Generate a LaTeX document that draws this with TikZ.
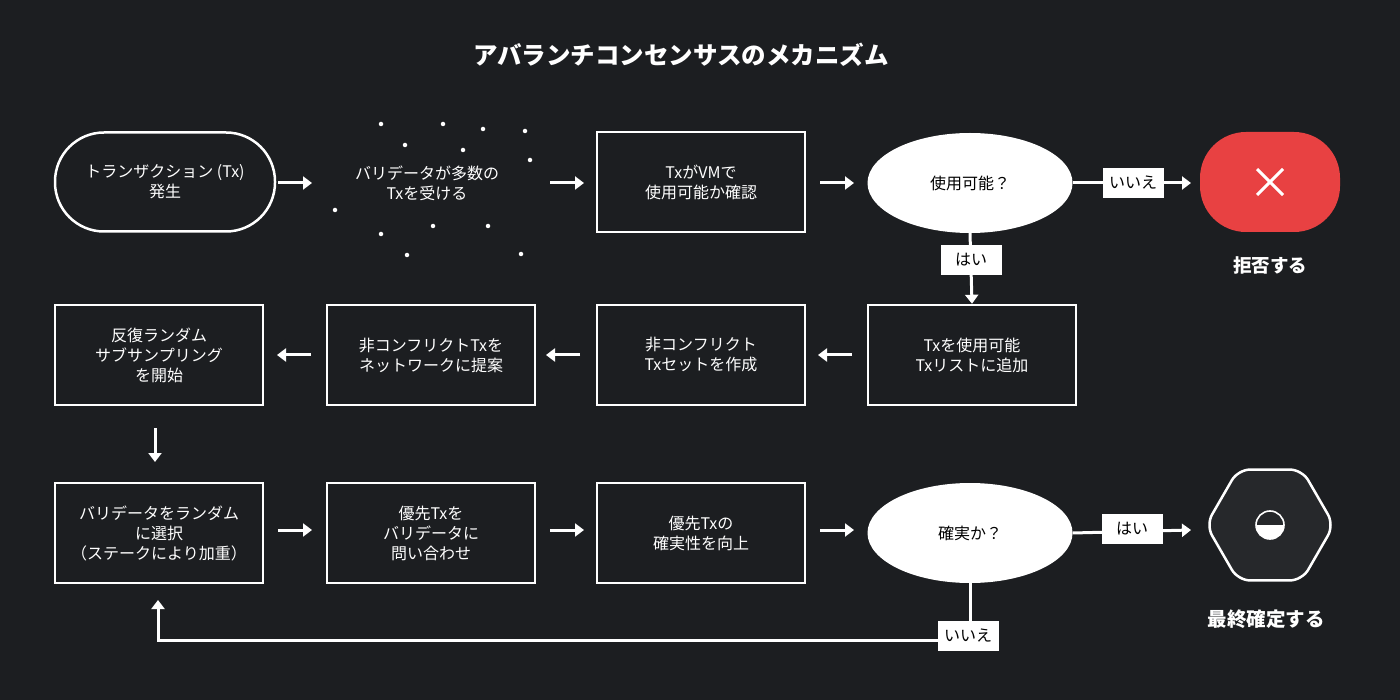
\documentclass[tikz,border=0pt]{standalone}
\usepackage{fontspec}
\setmainfont{Noto Sans CJK JP}
\usetikzlibrary{arrows.meta,shapes.geometric}
\definecolor{bg}{HTML}{1C1E21}
\definecolor{redx}{HTML}{E84142}
\definecolor{hexf}{HTML}{26282B}
\begin{document}
\begin{tikzpicture}[x=1pt,y=-1pt,
  box/.style={draw=white,line width=2.5pt,fill=bg,minimum width=208pt,minimum height=100pt,text=white,align=center,font=\fontsize{16}{20}\selectfont},
  ell/.style={ellipse,fill=white,minimum width=205pt,minimum height=100pt,font=\fontsize{16}{20}\selectfont,text=black},
  lab/.style={fill=white,text=black,font=\fontsize{16}{18}\selectfont,inner sep=0pt,minimum width=61pt,minimum height=30pt},
  arr/.style={draw=white,line width=3pt,-{Triangle[length=9pt,width=13pt]}},
  dot/.style={fill=white,circle,inner sep=0pt,minimum size=4.5pt}]
\fill[bg] (0,0) rectangle (1400,700);
\useasboundingbox (0,0) rectangle (1400,700);
\node[text=white,font=\bfseries\fontsize{24.5}{28}\selectfont] (title) at (681,55) {アバランチコンセンサスのメカニズム};
% row 1
\node[box,rounded corners=49pt,minimum width=220pt,minimum height=99pt] (tx) at (165,182) {トランザクション (Tx)\\発生};
\node[text=white,align=center,font=\fontsize{16}{20}\selectfont] (val) at (427,183) {バリデータが多数の\\Txを受ける};
\foreach \p [count=\i] in {(381,124),(443,124),(483,129),(525,131),(405,145),(463,150),(530,160),(335,210),(433,226),(488,226),(381,234),(407,255),(521,254)}
  \node[dot] (d\i) at \p {};
\node[box] (vm) at (701,182) {TxがVMで\\使用可能か確認};
\node[ell] (use) at (970,183) {使用可能？};
\node[fill=redx,rounded corners=46pt,minimum width=140pt,minimum height=100pt] (rej) at (1270,182) {};
\draw[white,line width=3pt] (1257,169) -- (1283,195) (1283,169) -- (1257,195);
\node[text=white,font=\bfseries\fontsize{18.5}{22}\selectfont] (rejt) at (1270,265) {拒否する};
\draw[arr] (278,183) -- (312,183);
\draw[arr] (550,183) -- (584,183);
\draw[arr] (820,183) -- (854,183);
\draw[arr] (use.east) -- (1191,183);
\node[lab] (no1) at (1133,183) {いいえ};
% row 2
\node[box] (add) at (972,355) {Txを使用可能\\Txリストに追加};
\node[box] (set) at (701,355) {非コンフリクト\\Txセットを作成};
\node[box] (prop) at (431,355) {非コンフリクトTxを\\ネットワークに提案};
\node[box] (rep) at (159,355) {反復ランダム\\サブサンプリング\\を開始};
\draw[arr] (use.south) -- (add.north);
\node[lab] (yes1) at (971,260) {はい};
\draw[arr] (852,355) -- (818,355);
\draw[arr] (580,355) -- (546,355);
\draw[arr] (311,355) -- (277,355);
\draw[arr] (155,428) -- (155,462);
% row 3
\node[box] (sel) at (159,533) {バリデータをランダム\\に選択\\（ステークにより加重）};
\node[box] (ask) at (431,533) {優先Txを\\バリデータに\\問い合わせ};
\node[box] (conf) at (701,533) {優先Txの\\確実性を向上};
\node[ell] (sure) at (970,533) {確実か？};
\node[regular polygon,regular polygon sides=6,draw=white,line width=2.5pt,fill=hexf,minimum size=128pt,rounded corners=12pt] (hex) at (1270,525) {};
\draw[white,line width=1.6pt] (1270,525) circle (14pt);
\fill[white] (1256,525) arc (180:360:14pt) -- cycle;
\node[text=white,font=\bfseries\fontsize{19.5}{22}\selectfont] (fint) at (1266,619) {最終確定する};
\draw[arr] (278,530) -- (312,530);
\draw[arr] (550,530) -- (584,530);
\draw[arr] (820,530) -- (854,530);
\draw[arr] (sure.east) -- (1191,530);
\node[lab] (yes2) at (1132,529) {はい};
\draw[arr] (sure.south) |- (158,640) -- (158,600);
\node[lab] (no2) at (968,636) {いいえ};
\end{tikzpicture}
\end{document}
